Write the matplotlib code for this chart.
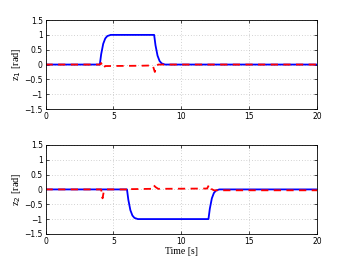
import matplotlib
matplotlib.use("Agg")
import matplotlib.pyplot as plt

# z1 traces
t1_ref = [0, 4.0, 4.1, 4.25, 4.4, 4.55, 4.8, 8.0, 8.1, 8.25, 8.4, 8.55, 8.8, 20]
z1_ref = [0, 0, 0.35, 0.7, 0.88, 0.96, 1.0, 1.0, 0.65, 0.3, 0.12, 0.04, 0, 0]
t1_err = [0, 4.0, 4.1, 4.25, 4.4, 4.6, 7.0, 7.9, 8.05, 8.15, 8.3, 8.6, 20]
z1_err = [0, 0, 0.05, -0.12, -0.05, -0.05, -0.04, -0.03, -0.25, -0.05, 0.0, 0.0, 0.0]

# z2 traces
t2_ref = [0, 6.0, 6.1, 6.25, 6.4, 6.55, 6.8, 12.0, 12.1, 12.25, 12.4, 12.55, 12.8, 20]
z2_ref = [0, 0, -0.35, -0.7, -0.88, -0.96, -1.0, -1.0, -0.65, -0.3, -0.12, -0.04, 0, 0]
t2_err = [0, 4.1, 4.2, 4.3, 4.45, 6.0, 6.1, 6.3, 7.8, 7.95, 8.1, 8.3, 11.9, 12.05, 12.2, 12.4, 20]
z2_err = [0, 0, -0.3, -0.05, 0, 0, -0.05, 0.01, 0.02, 0.15, 0.08, 0.02, 0.03, 0.16, 0.02, -0.03, -0.03]

fig = plt.figure(figsize=(3.5, 2.64), dpi=100)
ax1 = fig.add_axes([0.130, 0.587, 0.776, 0.337])
ax2 = fig.add_axes([0.130, 0.114, 0.776, 0.337])

for ax, tr, zr, te, ze, lab in [(ax1, t1_ref, z1_ref, t1_err, z1_err, "z$_1$ [rad]"),
                                (ax2, t2_ref, z2_ref, t2_err, z2_err, "z$_2$ [rad]")]:
    ax.plot(tr, zr, color="blue", lw=1.3)
    ax.plot(te, ze, color="red", lw=1.3, linestyle=(0, (4, 3)))
    ax.set_xlim(0, 20)
    ax.set_ylim(-1.5, 1.5)
    ax.set_xticks([0, 5, 10, 15, 20])
    ax.set_yticks([-1.5, -1, -0.5, 0, 0.5, 1, 1.5])
    ax.set_yticklabels(["\u22121.5", "\u22121", "\u22120.5", "0", "0.5", "1", "1.5"])
    ax.grid(True, linestyle=(0, (1, 3)), color="#aaaaaa", lw=0.5)
    ax.tick_params(direction="in", labelsize=5.5, length=2, width=0.5, top=True, right=True, pad=2)
    ax.set_ylabel(lab, fontsize=7.5, family="Liberation Serif", labelpad=1)
    for s in ax.spines.values():
        s.set_linewidth(0.6)

ax2.set_xlabel("Time [s]", fontsize=7, family="Liberation Serif", labelpad=1)

fig.savefig("out.png", dpi=100)
